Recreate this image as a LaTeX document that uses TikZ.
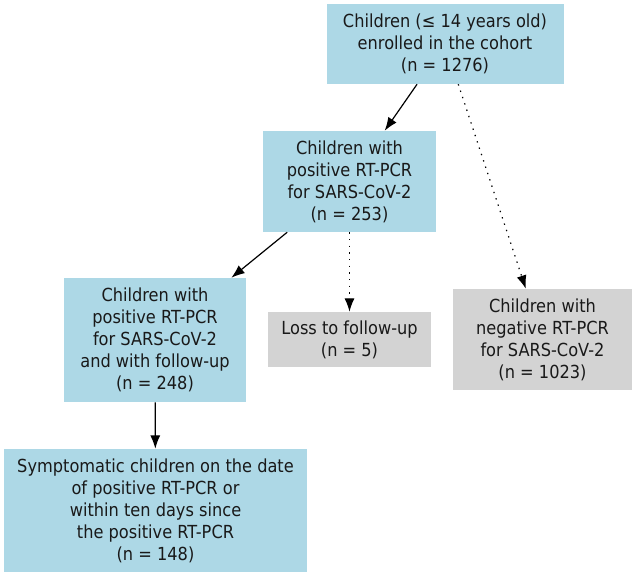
\documentclass[tikz,border=0pt]{standalone}
\usepackage{fontspec}
\setmainfont{DejaVu Sans}[FakeStretch=0.9]
\usepackage{xcolor}
\usepackage{tikz}
\usetikzlibrary{arrows.meta}
\definecolor{boxblue}{RGB}{173,216,230}
\definecolor{boxgray}{RGB}{211,211,211}
\definecolor{ink}{RGB}{25,25,25}
\tikzset{
  stage/.style={rectangle, fill=#1, draw=none, align=center, text=ink,
                font=\fontsize{13.5}{16.5}\selectfont, inner sep=2pt},
  stage/.default=boxblue,
  arr/.style={-{Latex[length=10pt,width=7.5pt]}, line width=0.9pt, black},
  darr/.style={arr, dash pattern=on 1pt off 4pt},
}
\begin{document}
\begin{tikzpicture}[x=0.75pt, y=-0.75pt]
  \useasboundingbox (0,0) rectangle (636,577);
  %% Cohort
  \node[stage, minimum width=177.75pt, minimum height=60pt] (cohort) at (445,44)
    {Children (≤ 14 years old)\\enrolled in the cohort\\(n = 1276)};
  %% Positive / negative split
  \node[stage, minimum width=129.75pt, minimum height=75.75pt] (pos) at (349.5,181.5)
    {Children with\\positive RT-PCR\\for SARS-CoV-2\\(n = 253)};
  \node[stage=boxgray, minimum width=134.25pt, minimum height=75.75pt] (neg) at (542.5,339.5)
    {Children with\\negative RT-PCR\\for SARS-CoV-2\\(n = 1023)};
  %% Follow-up
  \node[stage, minimum width=136.5pt, minimum height=93pt] (follow) at (155,340)
    {Children with\\positive RT-PCR\\for SARS-CoV-2\\and with follow-up\\(n = 248)};
  \node[stage=boxgray, minimum width=122.25pt, minimum height=41.25pt] (loss) at (349.5,339.5)
    {Loss to follow-up\\(n = 5)};
  %% Symptomatic
  \node[stage, minimum width=227.25pt, minimum height=92.25pt] (sympt) at (155.5,510.5)
    {Symptomatic children on the date\\of positive RT-PCR or\\within ten days since\\the positive RT-PCR\\(n = 148)};
  \foreach \a/\b in {cohort/pos,pos/follow,follow/sympt}
    \draw[arr] (\a) -- (\b);
  \foreach \a/\b in {cohort/neg,pos/loss}
    \draw[darr] (\a) -- (\b);
\end{tikzpicture}
\end{document}
